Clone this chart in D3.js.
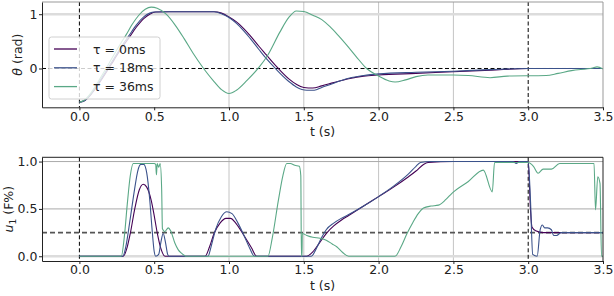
<!DOCTYPE html>
<html>
<head>
<meta charset="utf-8">
<script src="https://cdn.jsdelivr.net/npm/d3@7"></script>
<style>
  body { margin: 0; background: #fff; }
  svg { display: block; font-family: "DejaVu Sans", sans-serif; }
</style>
</head>
<body>
<svg width="614" height="296"></svg>
<script>
// Data: [t (s), value]
const tauLabels = ["τ = 0ms", "τ = 18ms", "τ = 36ms"];
const xTicks = [0, 0.5, 1, 1.5, 2, 2.5, 3, 3.5];
const thetaTicks = [0, 1];
const uTicks = [0, 0.5, 1];

const theta0 = [[0,-0.62],[0.03,-0.6],[0.08,-0.47],[0.13,-0.28],[0.18,-0.07],[0.23,0.15],[0.28,0.37],[0.33,0.56],[0.38,0.76],[0.43,0.92],[0.47,1.0],[0.51,1.04],[0.6,1.045],[0.9,1.045],[0.95,1.02],[1.0,0.95],[1.05,0.86],[1.1,0.73],[1.14,0.61],[1.2,0.41],[1.25,0.25],[1.3,0.09],[1.33,0],[1.4,-0.19],[1.45,-0.29],[1.5,-0.35],[1.56,-0.36],[1.62,-0.32],[1.7,-0.26],[1.8,-0.19],[1.9,-0.14],[2.0,-0.12],[2.25,-0.09],[2.5,-0.06],[2.75,-0.03],[3.0,0],[3.5,0]];
const theta18 = [[0,-0.62],[0.03,-0.6],[0.08,-0.46],[0.13,-0.26],[0.18,-0.04],[0.23,0.18],[0.28,0.4],[0.33,0.6],[0.38,0.8],[0.43,0.95],[0.47,1.02],[0.5,1.04],[0.6,1.045],[0.9,1.045],[0.95,1.01],[1.0,0.94],[1.05,0.83],[1.1,0.69],[1.14,0.56],[1.2,0.35],[1.25,0.18],[1.31,0],[1.4,-0.24],[1.45,-0.34],[1.52,-0.4],[1.57,-0.4],[1.62,-0.35],[1.7,-0.27],[1.8,-0.18],[1.9,-0.13],[2.0,-0.1],[2.25,-0.07],[2.5,-0.05],[2.75,-0.02],[3.0,0],[3.5,0]];
const theta36 = [[0,-0.62],[0.03,-0.59],[0.08,-0.44],[0.13,-0.22],[0.18,0.01],[0.23,0.25],[0.28,0.48],[0.31,0.61],[0.35,0.8],[0.4,0.99],[0.44,1.09],[0.48,1.13],[0.52,1.11],[0.58,1.0],[0.64,0.8],[0.7,0.55],[0.76,0.28],[0.83,0],[0.9,-0.24],[0.95,-0.39],[1.0,-0.46],[1.05,-0.4],[1.12,-0.22],[1.2,0.02],[1.26,0.25],[1.34,0.67],[1.4,0.94],[1.45,1.06],[1.5,1.05],[1.56,0.98],[1.62,0.9],[1.675,0.77],[1.73,0.61],[1.787,0.43],[1.85,0.22],[1.92,0],[2.0,-0.14],[2.07,-0.23],[2.11,-0.25],[2.18,-0.21],[2.25,-0.15],[2.33,-0.12],[2.5,-0.12],[2.6,-0.13],[2.745,-0.17],[2.86,-0.14],[3.12,-0.13],[3.2,-0.09],[3.29,-0.04],[3.43,0.01],[3.46,0.03],[3.5,-0.01]];

const u0 = [[0,0],[0.293,0],[0.32,0.1],[0.34,0.24],[0.37,0.5],[0.4,0.7],[0.427,0.76],[0.45,0.73],[0.48,0.59],[0.5,0.43],[0.52,0.25],[0.545,0.08],[0.572,0],[0.84,0],[0.87,0.1],[0.9,0.24],[0.94,0.35],[0.98,0.4],[1.01,0.4],[1.05,0.34],[1.1,0.22],[1.15,0.09],[1.185,0],[1.52,0],[1.55,0.03],[1.6,0.13],[1.65,0.24],[1.7,0.32],[1.75,0.38],[1.8,0.43],[1.9,0.53],[2.0,0.63],[2.1,0.73],[2.2,0.84],[2.25,0.9],[2.3,0.97],[2.33,0.99],[2.5,1.0],[3.0,1.0],[3.015,0.5],[3.025,0.31],[3.05,0.27],[3.1,0.25],[3.5,0.25]];
const u18 = [[0,0],[0.29,0],[0.31,0.1],[0.34,0.4],[0.37,0.72],[0.39,0.9],[0.41,0.97],[0.43,0.97],[0.45,0.88],[0.47,0.6],[0.485,0.3],[0.5,0.05],[0.51,0],[0.53,0.02],[0.545,0.15],[0.56,0.24],[0.575,0.15],[0.59,0.02],[0.6,0],[0.86,0],[0.88,0.1],[0.91,0.28],[0.95,0.42],[0.985,0.47],[1.02,0.45],[1.06,0.35],[1.1,0.22],[1.14,0.08],[1.17,0],[1.55,0],[1.58,0.07],[1.62,0.2],[1.65,0.28],[1.7,0.35],[1.75,0.4],[1.8,0.44],[1.9,0.53],[2.0,0.63],[2.1,0.74],[2.2,0.87],[2.25,0.95],[2.28,0.99],[2.35,1.0],[2.9,1.0],[2.92,0.98],[2.94,1.0],[3.0,1.0],[3.015,0.6],[3.03,0.02],[3.06,0],[3.08,0.28],[3.095,0.33],[3.11,0.3],[3.13,0.3],[3.155,0.28],[3.17,0.22],[3.19,0.22],[3.22,0.25],[3.5,0.25]];
const u36 = [[0,0],[0.28,0],[0.3,0.2],[0.32,0.55],[0.34,0.85],[0.36,0.98],[0.5,0.98],[0.51,0.97],[0.515,0.86],[0.52,0.98],[0.53,0.94],[0.54,0.98],[0.55,0.7],[0.555,0.29],[0.57,0.26],[0.594,0.3],[0.61,0.27],[0.638,0.14],[0.66,0.07],[0.684,0.03],[0.7,0.01],[0.71,0],[1.26,0],[1.29,0.2],[1.33,0.59],[1.36,0.85],[1.386,0.98],[1.41,0.98],[1.44,0.96],[1.47,0.95],[1.48,0.85],[1.484,0],[1.488,0],[1.49,0.24],[1.52,0.22],[1.56,0.2],[1.608,0.19],[1.65,0.17],[1.69,0.13],[1.72,0.1],[1.76,0.04],[1.8,0],[2.11,0],[2.15,0.1],[2.19,0.24],[2.23,0.36],[2.265,0.45],[2.3,0.51],[2.35,0.53],[2.4,0.54],[2.45,0.6],[2.49,0.665],[2.6,0.79],[2.7,0.91],[2.76,0.68],[2.775,0.99],[3.0,0.99],[3.035,0.95],[3.066,0.876],[3.1,0.92],[3.155,0.92],[3.21,0.98],[3.44,0.98],[3.45,0.49],[3.465,0.84],[3.48,0.77],[3.49,0],[3.5,0]];

const colors = ["#440154", "#3b528b", "#5aa886"];

const svg = d3.select("svg");
const left = 42, right = 603;
const x = d3.scaleLinear().domain([-0.25, 3.5]).range([left, right]);

const fmt1 = d3.format(".1f");

function panel(top, bottom, yDomain, yTicks, yFmt, series, opts) {
  const y = d3.scaleLinear().domain(yDomain).range([bottom, top]);
  const g = svg.append("g");

  // grid
  g.selectAll(".vgrid").data([1, 1.5, 2, 2.5]).enter().append("line")
    .attr("x1", d => x(d)).attr("x2", d => x(d))
    .attr("y1", top).attr("y2", bottom)
    .attr("stroke", "#c4c4c4").attr("stroke-width", 1);
  opts.hgrid.forEach(h => {
    g.append("line").attr("x1", left).attr("x2", right)
      .attr("y1", y(h.v)).attr("y2", y(h.v))
      .attr("stroke", h.c).attr("stroke-width", h.w);
  });

  // reference lines
  [0, 3].forEach(t => {
    g.append("line").attr("x1", x(t)).attr("x2", x(t))
      .attr("y1", top).attr("y2", bottom)
      .attr("stroke", "#000").attr("stroke-width", 1)
      .attr("stroke-dasharray", "4,2.5");
  });
  g.append("line").attr("x1", left).attr("x2", right)
    .attr("y1", y(opts.ref.v)).attr("y2", y(opts.ref.v))
    .attr("stroke", opts.ref.c).attr("stroke-width", opts.ref.w)
    .attr("stroke-dasharray", opts.ref.dash);

  // curves
  const line = d3.line().x(d => x(d[0])).y(d => y(d[1])).curve(d3.curveMonotoneX);
  series.forEach((s, i) => {
    g.append("path").datum(s).attr("d", line)
      .attr("fill", "none").attr("stroke", colors[i]).attr("stroke-width", 1.1);
  });

  // spines
  g.append("line").attr("x1", left).attr("x2", right).attr("y1", top).attr("y2", top)
    .attr("stroke", opts.spineTR).attr("stroke-width", 1);
  g.append("line").attr("x1", right).attr("x2", right).attr("y1", top).attr("y2", bottom)
    .attr("stroke", opts.spineTR).attr("stroke-width", 1);

  const xa = g.append("g").attr("transform", `translate(0,${bottom})`)
    .call(d3.axisBottom(x).tickValues(xTicks).tickFormat(fmt1)
      .tickSize(3).tickSizeOuter(0).tickPadding(1.5));
  const ya = g.append("g").attr("transform", `translate(${left},0)`)
    .call(d3.axisLeft(y).tickValues(yTicks).tickFormat(yFmt)
      .tickSize(3).tickSizeOuter(0).tickPadding(1.5));
  [xa, ya].forEach(a => {
    a.select(".domain").attr("stroke", "#222");
    a.selectAll(".tick line").attr("stroke", "#222");
    a.selectAll("text").attr("font-size", "12.5px").attr("fill", "#222")
      .attr("font-family", "DejaVu Sans");
  });

  g.append("text").attr("x", (left + right) / 2).attr("y", bottom + 29)
    .attr("text-anchor", "middle").attr("font-size", "12.5px").attr("fill", "#222")
    .text("t (s)");

  return { g, y };
}

// top panel
const p1 = panel(2, 107.3, [-0.715, 1.225], thetaTicks, d3.format("d"),
  [theta0, theta18, theta36],
  { hgrid: [{ v: 1, c: "#dcdcdc", w: 2.5 }],
    ref: { v: 0, c: "#000", w: 1, dash: "4,2.5" },
    spineTR: "#999" });

const yl1 = svg.append("text")
  .attr("transform", `translate(22,${(2 + 107.3) / 2}) rotate(-90)`)
  .attr("text-anchor", "middle").attr("font-size", "12.5px").attr("fill", "#222");
yl1.append("tspan").attr("font-style", "italic").text("θ");
yl1.append("tspan").text(" (rad)");

// legend
const leg = p1.g.append("g");
leg.append("rect").attr("x", 49).attr("y", 37).attr("width", 111).attr("height", 62)
  .attr("rx", 2.5).attr("fill", "#fff").attr("fill-opacity", 0.8)
  .attr("stroke", "#d0d0d0").attr("stroke-width", 1);
tauLabels.forEach((lab, i) => {
  const yy = 49 + i * 18.8;
  leg.append("line").attr("x1", 54).attr("x2", 77).attr("y1", yy).attr("y2", yy)
    .attr("stroke", colors[i]).attr("stroke-width", 1.3);
  leg.append("text").attr("x", 93).attr("y", yy).attr("dy", "0.36em")
    .attr("font-size", "12.5px").attr("fill", "#222").text(lab);
});

// bottom panel
panel(157.3, 261, [-0.05, 1.045], uTicks, fmt1,
  [u0, u18, u36],
  { hgrid: [{ v: 0, c: "#dcdcdc", w: 2.5 }, { v: 0.5, c: "#aaaaaa", w: 1 }, { v: 1, c: "#aaaaaa", w: 1 }],
    ref: { v: 0.25, c: "#555", w: 1.6, dash: "5,3" },
    spineTR: "#222" });

const yl2 = svg.append("text")
  .attr("transform", `translate(13,${(157.3 + 261) / 2}) rotate(-90)`)
  .attr("text-anchor", "middle").attr("font-size", "12.5px").attr("fill", "#222");
yl2.append("tspan").attr("font-style", "italic").text("u");
yl2.append("tspan").attr("font-size", "9px").attr("dy", "3").text("1");
yl2.append("tspan").attr("dy", "-3").text(" (F%)");
</script>
</body>
</html>
